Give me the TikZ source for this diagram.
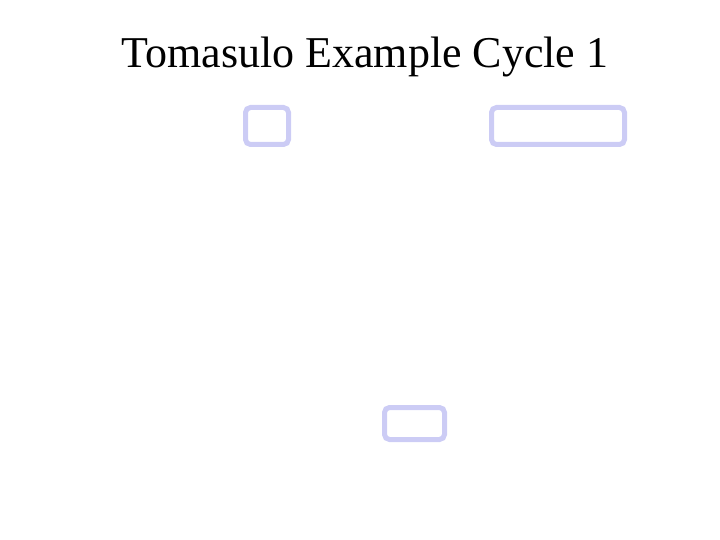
\documentclass[tikz,border=0pt]{standalone}
\usepackage{fontspec}
\setmainfont{Liberation Serif}
\definecolor{boxc}{RGB}{204,204,245}
\begin{document}
\begin{tikzpicture}[x=1pt,y=-1pt,
  slot/.style={draw=boxc,line width=5pt,rounded corners=5pt}]
\useasboundingbox (0,0) rectangle (720,540);
\node[anchor=base,inner sep=0pt,font=\fontsize{44}{50}\selectfont] (title) at (365,68) {Tomasulo Example Cycle 1};
\draw[slot] (245.5,107.5) rectangle (288.5,144.5);
\draw[slot] (491.5,107.5) rectangle (624.5,144.5);
\draw[slot] (384.5,407.5) rectangle (444.5,439.5);
\end{tikzpicture}
\end{document}
